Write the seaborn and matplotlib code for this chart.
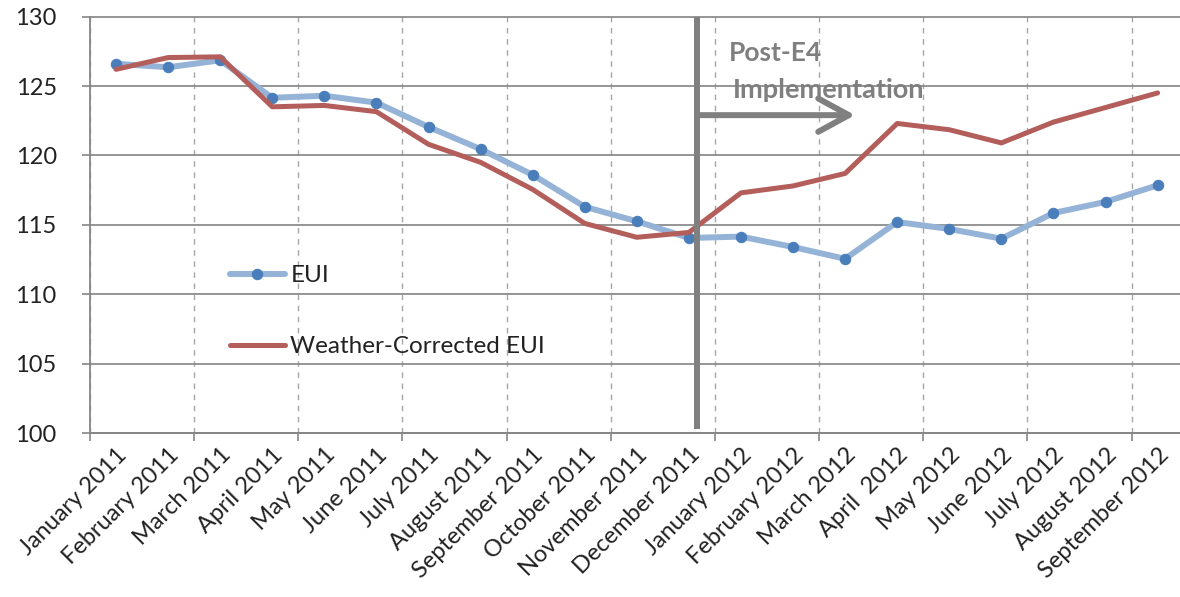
import numpy as np
import pandas as pd
import matplotlib
matplotlib.use("Agg")
import matplotlib.pyplot as plt
import seaborn as sns

# ---- data ----
months = ["January 2011", "February 2011", "March 2011", "April 2011", "May 2011",
          "June 2011", "July 2011", "August 2011", "September 2011", "October 2011",
          "November 2011", "December 2011", "January 2012", "February 2012",
          "March 2012", "April  2012", "May 2012", "June 2012", "July 2012",
          "August 2012", "September 2012"]
eui = [126.6, 126.35, 126.85, 124.15, 124.3, 123.8, 122.05, 120.45, 118.6, 116.3,
       115.25, 114.05, 114.15, 113.4, 112.55, 115.2, 114.7, 114.0, 115.85, 116.65, 117.85]
weather_corrected = [126.2, 127.05, 127.1, 123.5, 123.6, 123.15, 120.8, 119.5, 117.55, 115.1,
                     114.1, 114.45, 117.3, 117.8, 118.7, 122.3, 121.85, 120.9, 122.4, 123.45, 124.5]
y_ticks = [100, 105, 110, 115, 120, 125, 130]
annotation_lines = ["Post-E4", "Implementation"]

# ---- style ----
sns.set_theme(style="white")
plt.rcParams["font.family"] = ["Lato", "DejaVu Sans"]

df = pd.DataFrame({"pos": np.arange(len(months)), "month": months,
                   "EUI": eui, "Weather-Corrected EUI": weather_corrected})

W, H = 1180, 597
fig = plt.figure(figsize=(W / 100, H / 100), dpi=100)
ax = fig.add_axes([90 / W, 164 / H, 1090 / W, 416.4 / H])

sns.lineplot(data=df, x="pos", y="EUI", ax=ax, color="#95B3D7", lw=4.3,
             marker="o", markersize=7.5, markerfacecolor="#4A7EBB",
             markeredgecolor="#4A7EBB", label="EUI", zorder=3)
sns.lineplot(data=df, x="pos", y="Weather-Corrected EUI", ax=ax, color="#B35E5B",
             lw=3.6, label="Weather-Corrected EUI", zorder=4)

n = len(months)
ax.set_xlim(-0.5, (1180 - 116) / 52.08)
ax.set_ylim(100, 130)
ax.set_xlabel("")
ax.set_ylabel("")

# x ticks: boundary marks every two categories, labels on each category
ax.set_xticks(np.arange(-0.5, n, 2))
ax.set_xticklabels([])
ax.set_xticks(np.arange(n), minor=True)
ax.set_xticklabels(months, minor=True, rotation=45, ha="right",
                   rotation_mode="anchor", fontsize=17, color="#222222")
ax.tick_params(axis="x", which="minor", length=0, pad=8, bottom=True)
ax.tick_params(axis="x", which="major", length=6, width=1.2, color="#868686", bottom=True)

ax.set_yticks(y_ticks)
ax.set_yticklabels([str(v) for v in y_ticks], fontsize=17, color="#222222")
ax.tick_params(axis="y", length=6, width=1.2, color="#868686", pad=18, left=True)

ax.grid(axis="x", which="major", ls=(0, (4, 4)), color="#A6A6A6", lw=1.0)
ax.grid(axis="y", which="major", ls="-", color="#8C8C8C", lw=1.3)
for g in ax.get_ygridlines():
    g.set_clip_on(False)

for s in ["top", "right"]:
    ax.spines[s].set_visible(False)
for s in ["left", "bottom"]:
    ax.spines[s].set_color("#868686")
    ax.spines[s].set_linewidth(1.3)

# ---- Post-E4 annotation ----
post_x = 11.16
ax.vlines(post_x, 100.3, 129.95, color="#808080", lw=4.3, zorder=5)
ax.annotate("", xy=(14.19, 122.9), xytext=(post_x, 122.9),
            arrowprops=dict(arrowstyle="->,head_length=1.1,head_width=0.6",
                            mutation_scale=20, lw=4.3, color="#808080",
                            shrinkA=0, shrinkB=0), zorder=5)
ax.text(11.76, 127.38, annotation_lines[0], fontsize=19, fontweight="bold",
        color="#7F7F7F", ha="left", va="center")
ax.text(11.84, 124.71, annotation_lines[1], fontsize=19.5, fontweight="bold",
        color="#7F7F7F", ha="left", va="center")

# ---- legend ----
handles, labels = ax.get_legend_handles_labels()
leg = ax.legend(handles, labels, loc="center left", bbox_to_anchor=(0.128, 0.292),
                frameon=False, fontsize=17.5, handlelength=2.3, handletextpad=0.2,
                labelspacing=2.05, borderpad=0, borderaxespad=0, numpoints=1)
for t in leg.get_texts():
    t.set_color("#222222")

fig.savefig("out.png", dpi=100)
